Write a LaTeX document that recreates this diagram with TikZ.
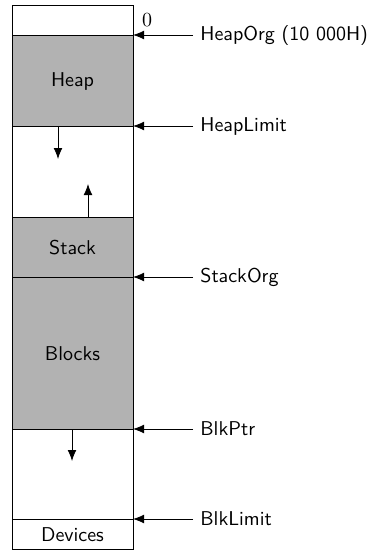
\documentclass[tikz,border=0pt]{standalone}
\usetikzlibrary{positioning,arrows.meta}
\tikzset{
  ptr/.style={-{Latex[length=5.5pt,width=4.4pt]}},
  region/.style={fill=gray!60, draw=black},
  lbl/.style={anchor=west, inner sep=0pt},
}
\begin{document}
\begin{tikzpicture}[x=0.5pt, y=-0.5pt, font=\sffamily]
    \useasboundingbox (0,0) rectangle (369,552);
    % filled regions
    \draw[region] (12,35) rectangle (133,126);
    \draw[region] (12,217) rectangle (133,277);
    \draw[region] (12,277) rectangle (133,429);
    \draw (12,5) rectangle (133,549);
    \draw (12,519) -- (133,519);
    % region names
    \node (heap) at (72.5,81) {Heap};
    \node (stack) at (72.5,248) {Stack};
    \node (blocks) at (72.5,354) {Blocks};
    \node (devices) at (72.5,535) {Devices};
    \node (zero) at (147,20) {$0$};
    % growth arrows
    \coordinate (hl) at (58,126);
    \coordinate (hd) at (58,159);
    \draw[ptr] (hl) -- (hd);
    \coordinate (st) at (88,217);
    \coordinate (su) at (88,184);
    \draw[ptr] (st) -- (su);
    \coordinate (bp) at (72,429);
    \coordinate (bd) at (72,461);
    \draw[ptr] (bp) -- (bd);
    % pointers
    \foreach \y/\name/\txt in {35/horg/HeapOrg (10 000H), 126/hlim/HeapLimit,
        277/sorg/StackOrg, 429/bptr/BlkPtr, 519/blim/BlkLimit} {
      \node[lbl] (\name) at (200,\y) {\txt};
      \coordinate (\name-a) at (133,\y);
      \draw[ptr] (\name.west) ++(-7,0) -- (\name-a);
    }
\end{tikzpicture}
\end{document}
